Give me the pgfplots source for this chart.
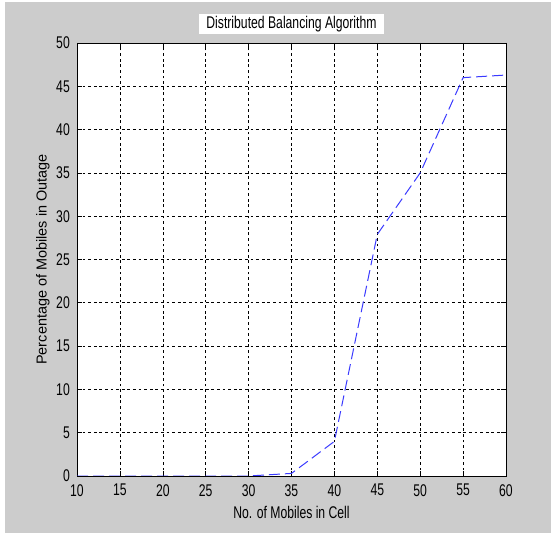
\documentclass[border=0pt]{standalone}
\usepackage{fontspec}
\setmainfont{Liberation Sans}
\newfontfamily\narrow[FakeStretch=0.72]{Liberation Sans}
\usepackage{pgfplots}
\pgfplotsset{compat=1.18}
\definecolor{figgray}{HTML}{CCCCCC}
\definecolor{mblue}{HTML}{3A3AFF}

\begin{document}
\begin{tikzpicture}
\fill[white] (0,0) rectangle (551bp,533bp);
\fill[figgray] (5bp,0) rectangle (551bp,531bp);
\begin{axis}[at={(77bp,57bp)}, anchor=south west, scale only axis,
  width=429bp, height=433bp,
  xmin=10, xmax=60, ymin=0, ymax=50,
  xtick={10,15,...,60}, ytick={0,5,...,50},
  axis background/.style={fill=white},
  axis line style={black, line width=0.8pt},
  tick align=inside, major tick length=5bp, tick style={black, line width=0.6pt},
  grid=major, major grid style={black, line width=0.6pt, dash pattern=on 2.8bp off 2.8bp},
  /pgf/number format/assume math mode=true,
  ticklabel style={font=\narrow\fontsize{17}{19}\selectfont, inner sep=1bp},
  yticklabel style={xshift=-6bp},
  xticklabel style={yshift=-7bp},
  title={\narrow\fontsize{17}{19}\selectfont Distributed Balancing Algorithm},
  title style={fill=white, inner xsep=7bp, inner ysep=1bp, minimum height=20bp, at={(0.5,1)}, anchor=south, yshift=3bp},
  xlabel={\narrow\fontsize{17}{19}\selectfont No. of Mobiles in Cell},
  ylabel={\fontsize{14.5}{16}\selectfont Percentage of Mobiles in Outage},
  xlabel style={yshift=-6bp},
  ylabel style={yshift=2bp},
]
\addplot[mblue, line width=1pt, dash pattern=on 11bp off 5bp] coordinates {
(10,0) (15,0) (20,0) (25,0) (30,0) (35,0.3) (40,4.0) (45,27.9) (50,35.0) (55,46.0) (60,46.3)};
\end{axis}
\end{tikzpicture}
\end{document}
